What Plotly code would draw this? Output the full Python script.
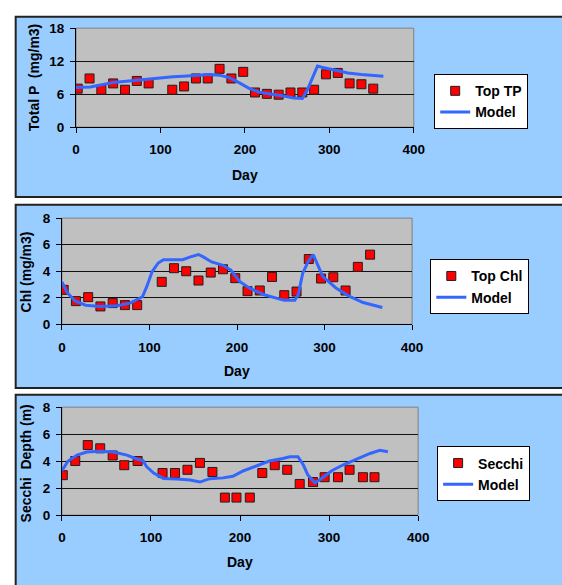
import plotly.graph_objects as go

W, H = 562, 585

# ---------------- data ----------------
tp_days = [2, 16, 30, 44, 58, 72, 86, 114, 128, 142, 156, 170, 184, 198, 212, 226, 240, 254, 268, 282, 296, 310, 324, 338, 352]
tp_vals = [7.0, 8.85, 6.8, 7.95, 6.8, 8.4, 7.95, 6.8, 7.4, 8.85, 8.85, 10.6, 8.85, 10.05, 6.3, 6.05, 5.9, 6.3, 6.3, 6.8, 9.6, 9.85, 7.95, 7.8, 7.0]
tp_model_days = [0, 17, 44, 72, 99, 115, 127, 142, 158, 170, 182, 193, 205, 217, 229, 244, 258, 268, 274, 286, 291, 307, 322, 338, 350, 364]
tp_model_vals = [7.2, 7.3, 8.1, 8.55, 8.95, 9.15, 9.25, 9.45, 9.55, 9.45, 8.95, 8.1, 7.05, 6.35, 6.0, 5.7, 5.3, 5.2, 6.8, 11.1, 10.9, 10.3, 9.85, 9.55, 9.35, 9.25]

chl_days = [2, 16, 30, 44, 58, 72, 86, 114, 128, 142, 156, 170, 184, 198, 212, 226, 240, 254, 268, 282, 296, 310, 324, 338, 352]
chl_vals = [2.6, 1.75, 2.05, 1.35, 1.6, 1.45, 1.45, 3.2, 4.23, 4.0, 3.3, 3.9, 4.15, 3.48, 2.5, 2.55, 3.57, 2.2, 2.47, 4.92, 3.45, 3.55, 2.55, 4.33, 5.25]
chl_model_days = [0, 6, 15, 27, 44, 63, 78, 92, 97, 103, 110, 116, 127, 138, 146, 156, 161, 171, 184, 193, 203, 214, 230, 241, 254, 266, 270, 275, 281, 287, 292, 298, 313, 328, 344, 355, 366]
chl_model_vals = [3.2, 2.4, 1.76, 1.44, 1.35, 1.4, 1.6, 2.08, 2.86, 3.96, 4.62, 4.87, 4.87, 4.87, 5.06, 5.26, 5.1, 4.7, 4.45, 4.09, 3.23, 2.74, 2.25, 2.05, 1.81, 1.81, 2.25, 3.84, 4.7, 5.26, 4.45, 3.6, 2.74, 2.13, 1.64, 1.45, 1.27]

sec_days = [1, 15, 29, 43, 57, 70, 85, 113, 127, 141, 155, 169, 183, 196, 211, 225, 239, 253, 267, 282, 295, 310, 323, 338, 351]
sec_vals = [2.96, 4.01, 5.19, 4.95, 4.42, 3.7, 4.01, 3.12, 3.12, 3.36, 3.87, 3.2, 1.3, 1.3, 1.3, 3.12, 3.7, 3.36, 2.31, 2.45, 2.81, 2.81, 3.36, 2.81, 2.81]
sec_model_days = [0, 7, 17, 28, 43, 58, 73, 84, 91, 95, 103, 114, 129, 144, 155, 166, 181, 192, 204, 219, 233, 248, 256, 265, 271, 276, 284, 290, 303, 316, 331, 346, 357, 366]
sec_model_vals = [3.29, 4.01, 4.45, 4.68, 4.73, 4.68, 4.45, 4.16, 4.05, 3.6, 3.12, 2.72, 2.67, 2.6, 2.45, 2.7, 2.76, 2.88, 3.29, 3.65, 4.01, 4.2, 4.33, 4.33, 3.73, 3.0, 2.4, 2.64, 3.29, 3.73, 4.16, 4.57, 4.81, 4.7]

x_ticks = [0, 100, 200, 300, 400]
panel_titles = ["Total P  (mg/m3)", "Chl (mg/m3)", "Secchi  Depth (m)"]
obs_names = ["Top TP", "Top Chl", "Secchi"]
x_title = "Day"

# ---------------- layout helpers ----------------
def px(x):
    return x / W

def py(y):
    return 1 - y / H

FONT = "Arial, 'Liberation Sans', sans-serif"
BLUE = "rgb(51,102,255)"
RED = "#FF0000"
PANEL_BG = "#99CCFF"
PLOT_BG = "#C0C0C0"

panels = [
    dict(pa=(74, 421, 21.7, 123.3), fr=(10, 195), leg=(442, 69), yt=(30.5, 72.5), dt=(247.5, 172), yr=[0, 18], dtk=6,
         obs=(tp_days, tp_vals), mod=(tp_model_days, tp_model_vals)),
    dict(pa=(59.5, 419.3, 216.7, 325.7), fr=(203, 391), leg=(438, 259), yt=(23, 272), dt=(239.4, 374), yr=[0, 8], dtk=2,
         obs=(chl_days, chl_vals), mod=(chl_model_days, chl_model_vals)),
    dict(pa=(59.5, 425.5, 410.7, 521.5), fr=(398, 600), leg=(445, 451), yt=(23.6, 468.5), dt=(242.5, 570), yr=[0, 8], dtk=2,
         obs=(sec_days, sec_vals), mod=(sec_model_days, sec_model_vals)),
]

fig = go.Figure()
shapes = []
annotations = []
layout_extra = {}

for i, p in enumerate(panels):
    n = i + 1
    xa = "x" if n == 1 else f"x{n}"
    ya = "y" if n == 1 else f"y{n}"
    leg = "legend" if n == 1 else f"legend{n}"

    shapes.append(dict(type="rect", xref="paper", yref="paper",
                       x0=px(12), x1=px(600), y0=py(p["fr"][1]), y1=py(p["fr"][0]),
                       fillcolor=PANEL_BG, line=dict(color="#222222", width=2), layer="below"))
    shapes.append(dict(type="rect", xref=f"{xa} domain", yref=f"{ya} domain",
                       x0=0, x1=1, y0=0, y1=1, fillcolor=PLOT_BG,
                       line=dict(color="#808080", width=1), layer="below"))

    fig.add_trace(go.Scatter(x=p["obs"][0], y=p["obs"][1], mode="markers", name=obs_names[i],
                             marker=dict(symbol="square", size=9, color=RED,
                                         line=dict(color="#202020", width=1)),
                             xaxis=xa, yaxis=ya, legend=leg))
    fig.add_trace(go.Scatter(x=p["mod"][0], y=p["mod"][1], mode="lines", name="Model",
                             line=dict(color=BLUE, width=3),
                             xaxis=xa, yaxis=ya, legend=leg))

    x0, x1, yt, yb = p["pa"]
    xkey = "xaxis" if n == 1 else f"xaxis{n}"
    ykey = "yaxis" if n == 1 else f"yaxis{n}"
    layout_extra[xkey] = dict(domain=[px(x0), px(x1)], anchor=ya, range=[0, 400],
                              tickvals=x_ticks, ticks="outside", ticklen=5, tickcolor="#000",
                              showline=True, linecolor="#000", linewidth=1, showgrid=False,
                              zeroline=False, ticklabelstandoff=5,
                              tickfont=dict(family=FONT, size=13.5, color="#000", weight="bold"))
    layout_extra[ykey] = dict(domain=[py(yb), py(yt)], anchor=xa, range=p["yr"], dtick=p["dtk"],
                              ticks="outside", ticklen=5, tickcolor="#000",
                              showline=True, linecolor="#000", linewidth=1,
                              showgrid=True, gridcolor="#111", gridwidth=1, zeroline=False,
                              ticklabelstandoff=3,
                              tickfont=dict(family=FONT, size=13.5, color="#000", weight="bold"))
    layout_extra[leg] = dict(x=px(p["leg"][0]), y=py(p["leg"][1]), xanchor="left", yanchor="top",
                             bgcolor="#FFFFFF", bordercolor="#000", borderwidth=1,
                             font=dict(family=FONT, size=14, color="#000", weight="bold"),
                             tracegroupgap=0, itemwidth=30)

    annotations.append(dict(text=panel_titles[i], xref="paper", yref="paper",
                            x=px(p["yt"][0]), y=py(p["yt"][1]), textangle=-90, showarrow=False,
                            xanchor="center", yanchor="middle",
                            font=dict(family=FONT, size=14, color="#000", weight="bold")))
    annotations.append(dict(text=x_title, xref="paper", yref="paper",
                            x=px(p["dt"][0]), y=py(p["dt"][1]), showarrow=False,
                            xanchor="center", yanchor="middle",
                            font=dict(family=FONT, size=14, color="#000", weight="bold")))

fig.update_layout(width=W, height=H, autosize=False,
                  margin=dict(l=0, r=0, t=0, b=0),
                  paper_bgcolor="#FFFFFF", plot_bgcolor="rgba(0,0,0,0)",
                  shapes=shapes, annotations=annotations, showlegend=True,
                  **layout_extra)

fig.write_html("out.html",
               config={"displayModeBar": False},
               post_script="document.body.style.margin='0';document.body.style.overflow='hidden';")
